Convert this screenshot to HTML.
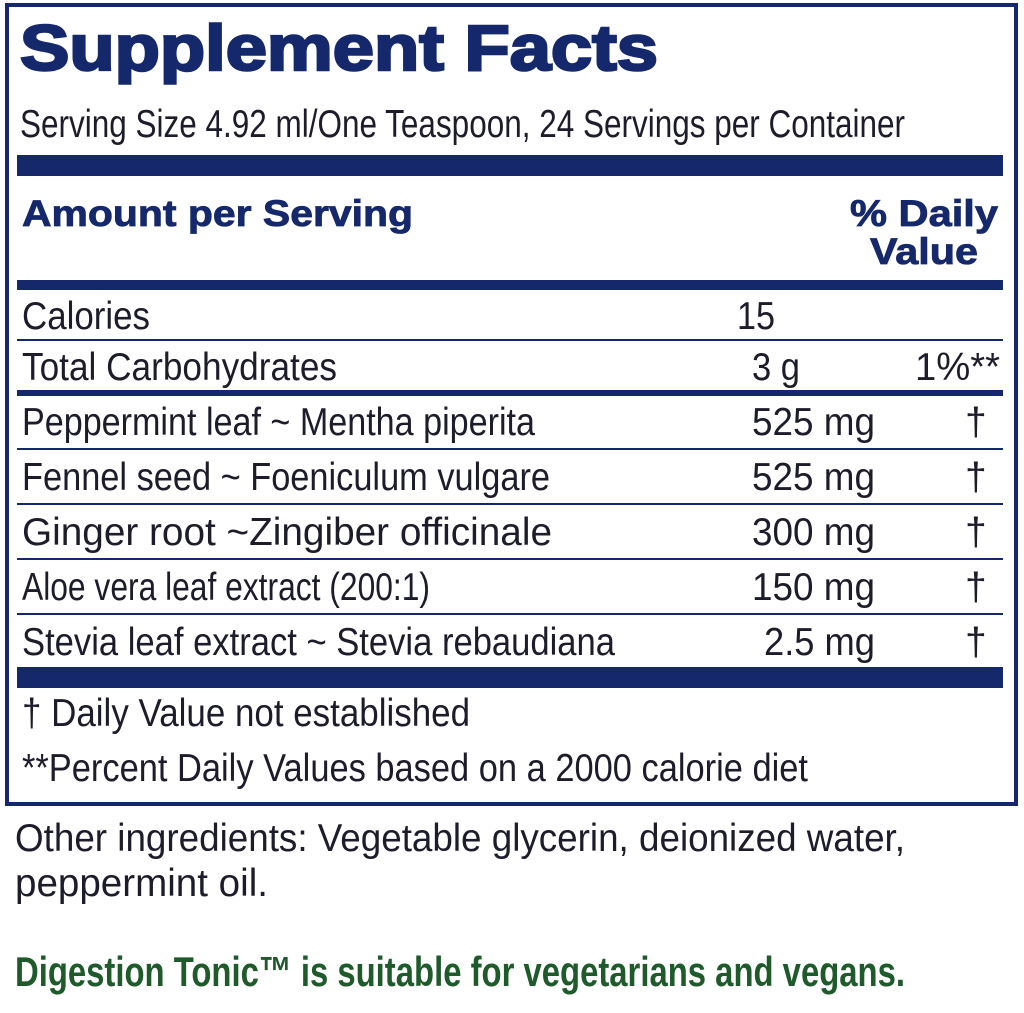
<!DOCTYPE html>
<html><head><meta charset="utf-8"><style>
html,body{margin:0;padding:0;background:#fff;}
svg{display:block}
text{font-family:"Liberation Sans",sans-serif;}
.b{fill:#15286b;font-weight:bold}
.t{fill:#1c1c2a;font-size:39px}
</style></head><body>
<svg width="1024" height="1013" viewBox="0 0 1024 1013">
<rect x="7" y="5" width="1009" height="799" fill="none" stroke="#15286b" stroke-width="4"/>
<text class="b" x="20" y="70" font-size="64" stroke="#15286b" stroke-width="2.5" textLength="638" lengthAdjust="spacingAndGlyphs">Supplement Facts</text>
<text class="t" x="20" y="137" textLength="885" lengthAdjust="spacingAndGlyphs">Serving Size 4.92 ml/One Teaspoon, 24 Servings per Container</text>
<rect x="17" y="155" width="986" height="21" fill="#15286b"/>
<text class="b" x="22" y="226" font-size="37" stroke="#15286b" stroke-width="0.8" textLength="391" lengthAdjust="spacingAndGlyphs">Amount per Serving</text>
<text class="b" x="850" y="226" font-size="37" stroke="#15286b" stroke-width="0.8" textLength="148" lengthAdjust="spacingAndGlyphs">% Daily</text>
<text class="b" x="870" y="264" font-size="37" stroke="#15286b" stroke-width="0.8" textLength="108" lengthAdjust="spacingAndGlyphs">Value</text>
<rect x="17" y="280" width="986" height="10" fill="#15286b"/>
<text class="t" x="22" y="329" textLength="128" lengthAdjust="spacingAndGlyphs">Calories</text>
<text class="t" x="737" y="329" textLength="38" lengthAdjust="spacingAndGlyphs">15</text>
<rect x="17" y="339" width="986" height="2" fill="#15286b"/>
<text class="t" x="22" y="380" textLength="315" lengthAdjust="spacingAndGlyphs">Total Carbohydrates</text>
<text class="t" x="752" y="380" textLength="48" lengthAdjust="spacingAndGlyphs">3 g</text>
<text class="t" x="915" y="380" textLength="85" lengthAdjust="spacingAndGlyphs">1%**</text>
<rect x="17" y="390" width="986" height="6" fill="#15286b"/>
<text class="t" x="22" y="435" textLength="513" lengthAdjust="spacingAndGlyphs">Peppermint leaf ~ Mentha piperita</text>
<text class="t" x="752" y="435" textLength="123" lengthAdjust="spacingAndGlyphs">525 mg</text>
<text class="t" x="965" y="435">†</text>
<rect x="17" y="448" width="986" height="2" fill="#15286b"/>
<text class="t" x="22" y="490" textLength="528" lengthAdjust="spacingAndGlyphs">Fennel seed ~ Foeniculum vulgare</text>
<text class="t" x="752" y="490" textLength="123" lengthAdjust="spacingAndGlyphs">525 mg</text>
<text class="t" x="965" y="490">†</text>
<rect x="17" y="503" width="986" height="2" fill="#15286b"/>
<text class="t" x="22" y="545" textLength="530" lengthAdjust="spacingAndGlyphs">Ginger root ~Zingiber officinale</text>
<text class="t" x="752" y="545" textLength="123" lengthAdjust="spacingAndGlyphs">300 mg</text>
<text class="t" x="965" y="545">†</text>
<rect x="17" y="558" width="986" height="2" fill="#15286b"/>
<text class="t" x="22" y="600" textLength="408" lengthAdjust="spacingAndGlyphs">Aloe vera leaf extract (200:1)</text>
<text class="t" x="752" y="600" textLength="123" lengthAdjust="spacingAndGlyphs">150 mg</text>
<text class="t" x="965" y="600">†</text>
<rect x="17" y="613" width="986" height="2" fill="#15286b"/>
<text class="t" x="22" y="655" textLength="593" lengthAdjust="spacingAndGlyphs">Stevia leaf extract ~ Stevia rebaudiana</text>
<text class="t" x="764" y="655" textLength="111" lengthAdjust="spacingAndGlyphs">2.5 mg</text>
<text class="t" x="965" y="655">†</text>
<rect x="17" y="667" width="986" height="21" fill="#15286b"/>
<text class="t" x="22" y="726" textLength="448" lengthAdjust="spacingAndGlyphs">†  Daily Value not established</text>
<text class="t" x="22" y="781" textLength="786" lengthAdjust="spacingAndGlyphs">**Percent Daily Values based on a 2000 calorie diet</text>
<text class="t" x="15" y="851" textLength="890" lengthAdjust="spacingAndGlyphs">Other ingredients: Vegetable glycerin, deionized water,</text>
<text class="t" x="15" y="896" textLength="253" lengthAdjust="spacingAndGlyphs">peppermint oil.</text>
<text x="15" y="986" font-size="42" font-weight="bold" fill="#1f5a2b" textLength="890" lengthAdjust="spacingAndGlyphs">Digestion Tonic™ is suitable for vegetarians and vegans.</text>
</svg>
</body></html>
